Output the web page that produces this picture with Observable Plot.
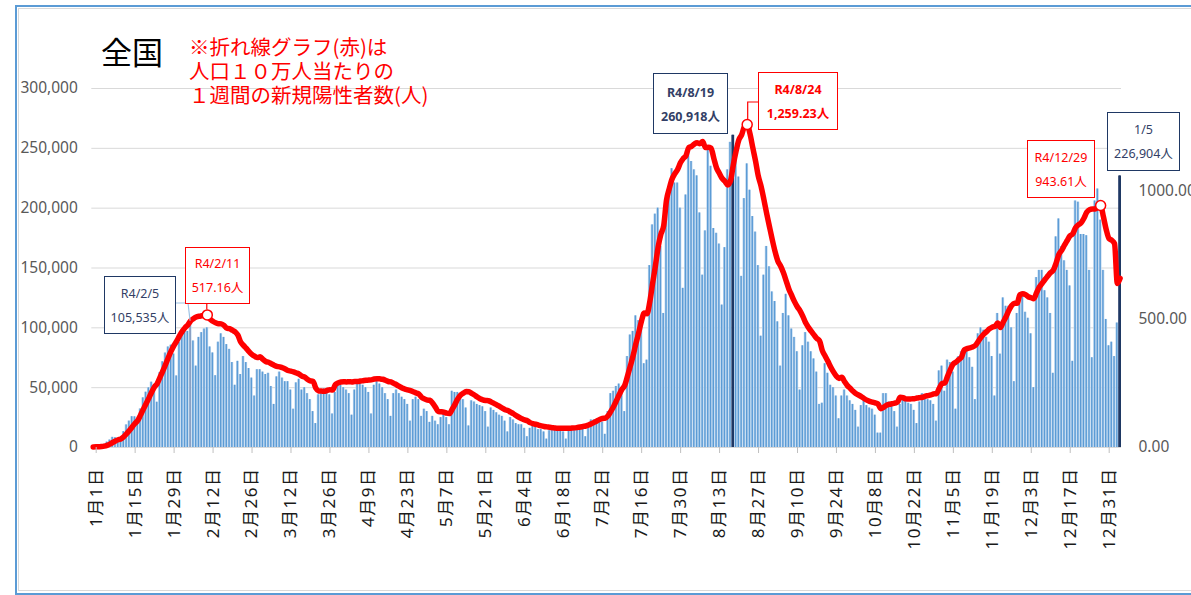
<!DOCTYPE html>
<html><head><meta charset="utf-8">
<script src="https://cdn.jsdelivr.net/npm/d3@7"></script>
<script src="https://cdn.jsdelivr.net/npm/@observablehq/plot@0.6"></script>
<style>
html,body{margin:0;padding:0;background:#fff;}
#wrap{position:relative;width:1191px;height:595px;overflow:hidden;font-family:"Noto Sans","Noto Sans CJK JP",sans-serif;}
#wrap svg.chart{position:absolute;left:0;top:0;}
.frame{position:absolute;left:15px;top:5px;width:1230px;height:590px;border:2px solid #5b9bd5;box-sizing:border-box;pointer-events:none;}
.frame2{position:absolute;left:18px;top:8px;width:1230px;height:583px;border:1px solid #d9d9d9;box-sizing:border-box;pointer-events:none;}
.title{position:absolute;left:101px;top:34px;font-family:"Noto Sans CJK JP",sans-serif;font-size:31px;line-height:1.1;color:#000;}
.note{position:absolute;left:189px;top:34px;font-family:"Noto Sans CJK JP",sans-serif;font-size:20.5px;line-height:24px;color:#ff0000;white-space:nowrap;}
.box{position:absolute;box-sizing:border-box;text-align:center;font-family:"Noto Sans","Noto Sans CJK JP",sans-serif;font-size:12.5px;line-height:24px;background:#fff;white-space:nowrap;}
.navy{border:1.3px solid #1f3864;color:#333f66;}
.red{border:1px solid #ff0000;color:#ff0000;}
.bold{font-weight:bold;}
g[aria-label="x-axis tick label"] text{letter-spacing:1.5px;}
</style>
</head><body>
<div id="wrap"></div>
<script>
// ---- daily new positives, whole of Japan (people) ----
const jan22 = [534,553,782,1265,2638,4475,6214,8480,8249,6438,5876,13244,18860,22045,25742,25635,20670,32197,41485,46199,49854,54576,50873,37830,62613,71633,78930,84000,85500,78100,59800];
const feb22 = [88000,94000,97000,97000,105535,89000,68000,92000,96000,99000,100000,84000,79000,60000,88000,95000,92000,86000,82000,71000,52000,72000,61000,76000,71000,66000,58000,43000];
const mar22 = [65000,65000,63000,61000,62000,51000,36000,59000,63000,58000,55000,55000,48000,32000,54000,57000,48000,50000,45000,40000,30000,20000,44000,47000,49000,49000,44000,28000,46000,53000,52000];
const apr22 = [50000,48000,45000,27000,48000,53000,54000,52000,50000,46000,28000,52000,55000,53000,50000,45000,40000,26000,45000,48000,45000,42000,40000,36000,22000,40000,42000,40000,26000,32000];
const may22 = [30000,21000,26000,22000,19000,25000,30000,25000,19000,47000,46000,46000,43000,40000,33000,18000,39000,38000,36000,35000,34000,30000,17000,33000,31000,29000,27000,26000,22000,13000,25000];
const jun22 = [23000,20000,19000,19000,16000,9000,16000,18000,17000,15000,15000,13000,7000,14000,16000,15000,14000,15000,13000,7000,14000,17000,16000,16000,17000,16000,9000,19000,23000,23000];
const jul22 = [23000,24000,21000,11000,30000,45000,47000,51000,53000,48000,30000,76000,94000,97000,110000,106000,105000,70000,73000,152000,186000,195000,200000,168000,112000,197000,209000,233000,221000,221000,200000];
const aug22 = [133000,211000,249000,239000,232000,227000,196000,144000,181000,250000,235000,183000,179000,170000,119000,167000,232000,255000,260918,246000,226000,143000,208000,237000,215000,193000,180000,152000,93000,144000,168000];
const sep22 = [151000,130000,122000,105000,68000,112000,128000,110000,99000,92000,80000,48000,85000,96000,88000,80000,74000,63000,36000,37000,70000,62000,52000,50000,43000,24000,43000,48000,43000,39000];
const oct22 = [36000,31000,17000,35000,39000,35000,33000,32000,27000,12000,12000,45000,45000,38000,35000,30000,17000,36000,43000,39000,37000,36000,31000,20000,38000,45000,44000,40000,39000,36000,22000];
const nov22 = [64000,68000,47000,73000,71000,63000,32000,76000,80000,82000,80000,75000,67000,40000,95000,100000,98000,92000,88000,76000,43000,112000,78000,125000,118000,118000,100000,55000,112000,120000];
const dec22 = [130000,113000,108000,95000,50000,142000,148000,148000,131000,125000,112000,62000,176000,191000,168000,156000,148000,135000,72000,206000,205000,178000,178000,177000,148000,75000,206000,216000,190000,148000,107000];
const jan23 = [85000,88000,76000,104000,226904];

// ---- weekly new positives per 100,000 population (red line, right axis) ----
const redJan22 = [2.2,2.5,2.9,3.6,5.4,8.6,13.1,19.5,25.6,30.1,33.8,42.2,53.7,66.3,80.0,93.9,105.2,126.2,148.7,170.5,192.7,215.6,235.7,249.4,273.6,297.7,323.7,351.0,375.6,397.3,414.8];
const redFeb22 = [435.0,452.9,467.2,477.6,493.6,502.3,508.8,512.0,513.6,515.2,517.16,500.4,492.4,486.1,482.9,482.1,476.5,465.3,463.7,457.4,451.0,438.2,411.2,398.4,386.5,373.7,363.3,356.2];
const redMar22 = [350.6,353.8,343.4,335.5,332.3,326.7,321.1,316.3,314.7,310.8,306.0,300.4,298.0,294.8,290.8,286.1,278.1,274.1,266.1,259.8,258.2,231.1,220.7,219.9,219.1,222.3,225.5,223.9,244.6,251.8,255.8];
const redApr22 = [256.6,255.8,256.6,255.8,257.4,257.4,259.0,260.6,262.2,262.9,263.7,266.9,268.5,267.7,266.1,262.2,257.4,255.8,250.2,244.6,238.2,231.9,227.9,224.7,221.5,217.5,212.7,208.8,196.0,189.6];
const redMay22 = [184.9,184.1,172.9,157.0,140.2,139.4,137.8,133.9,132.3,149.0,168.1,189.6,204.0,212.0,218.3,217.5,211.2,204.8,196.8,190.4,185.7,183.3,182.5,177.7,172.1,166.5,160.2,153.8,147.4,144.2,137.8];
const redJun22 = [131.5,124.3,117.9,112.4,107.6,104.4,97.2,93.2,90.8,87.6,84.5,82.1,80.5,78.9,77.3,75.7,74.9,74.9,74.9,74.9,74.9,75.7,76.5,78.1,79.7,82.1,83.7,87.6,92.4,98.0];
const redJul22 = [103.6,109.2,113.1,114.7,123.5,141.0,160.2,182.5,205.6,227.1,242.2,278.9,317.9,357.8,404.8,447.0,492.4,524.3,521.9,568.1,639.0,706.8,781.7,831.9,865.3,964.1,1009.6,1047.0,1067.7,1084.5,1110.0];
const redAug22 = [1126.7,1137.8,1169.7,1174.5,1183.3,1188.0,1184.9,1193.6,1169.7,1170.5,1167.3,1128.3,1090.0,1069.3,1049.4,1038.2,1023.9,1039.8,1101.9,1155.3,1199.9,1219.0,1251.7,1259.23,1223.8,1169.7,1117.1,1058.2,1018.3,967.3,912.4];
const redSep22 = [861.4,811.2,764.9,727.5,707.6,682.1,650.2,617.5,592.8,568.9,549.0,533.1,511.6,486.1,468.5,453.4,439.0,425.5,415.9,377.7,357.0,336.3,313.9,294.8,278.9,269.3,274.1,256.6,241.4,231.1];
const redOct22 = [219.9,210.4,204.8,198.4,191.2,184.9,180.1,176.9,173.7,169.7,151.4,156.2,164.1,168.1,170.5,172.9,176.9,196.0,194.4,189.6,188.8,189.6,190.4,192.8,194.4,196.0,200.0,202.4,204.8,208.8,210.4];
const redNov22 = [231.1,249.4,251.8,278.1,303.6,325.1,333.1,342.6,352.2,380.1,385.7,388.8,392.0,398.4,413.5,429.5,442.2,451.8,462.2,469.3,471.7,485.3,467.7,489.2,510.0,533.9,553.0,562.5,562.5,596.0];
const redDec22 = [600.0,596.0,588.0,584.1,580.1,604.0,626.3,640.6,655.0,668.5,682.1,691.6,718.7,753.0,768.9,788.8,807.2,825.5,833.5,857.4,868.5,876.5,894.0,917.1,927.5,929.9,929.9,938.6,943.61,900.0,850.0];
const redJan23 = [815.0,808.0,795.0,640.0,660.0];

// axes
const leftTicks = [0,50000,100000,150000,200000,250000,300000];
const rightTicks = [0,500,1000];
const rightMax = 1400;
const leftMax = 300000;
const xTickDates = ["2022-01-01","2022-01-15","2022-01-29","2022-02-12","2022-02-26","2022-03-12","2022-03-26","2022-04-09","2022-04-23","2022-05-07","2022-05-21","2022-06-04","2022-06-18","2022-07-02","2022-07-16","2022-07-30","2022-08-13","2022-08-27","2022-09-10","2022-09-24","2022-10-08","2022-10-22","2022-11-05","2022-11-19","2022-12-03","2022-12-17","2022-12-31"];

// highlights / annotations
const darkBars = ["2022-08-19","2023-01-05"];
const markedBar = "2022-02-05";
const redPeaks = ["2022-02-11","2022-08-24","2022-12-29"];
const boxes = [
  {cls:"navy", l1:"R4/2/5", l2:"105,535人", x:104, y:276, w:72, h:58, pt:5},
  {cls:"red", l1:"R4/2/11", l2:"517.16人", x:185, y:247, w:65, h:57, pt:4},
  {cls:"navy bold", l1:"R4/8/19", l2:"260,918人", x:653, y:73, w:75, h:61, pt:7},
  {cls:"red bold", l1:"R4/8/24", l2:"1,259.23人", x:758, y:72, w:80, h:58, pt:5},
  {cls:"red", l1:"R4/12/29", l2:"943.61人", x:1027, y:140, w:68, h:58, pt:5},
  {cls:"navy", l1:"1/5", l2:"226,904人", x:1107, y:112, w:73, h:59, pt:5}
];

// ---- build rows ----
const DAY = 864e5;
const start = Date.UTC(2022,0,1);
const counts = [].concat(jan22,feb22,mar22,apr22,may22,jun22,jul22,aug22,sep22,oct22,nov22,dec22,jan23);
const reds = [].concat(redJan22,redFeb22,redMar22,redApr22,redMay22,redJun22,redJul22,redAug22,redSep22,redOct22,redNov22,redDec22,redJan23);
const iso = d => d.toISOString().slice(0,10);
const bars = counts.map((v,i)=>({date:new Date(start+i*DAY), value:v}));
const red = reds.map((v,i)=>({date:new Date(start+i*DAY), value:v}));
const K = leftMax/rightMax;
const barColor = d => darkBars.includes(iso(d.date)) ? "#1f3864" : (iso(d.date)===markedBar ? "#7d93b8" : "#5b9bd5");
const peaks = red.filter(d=>redPeaks.includes(iso(d.date)));
const xTicks = xTickDates.map(s=>new Date(s+"T00:00:00Z"));
const half = d => [new Date(+d.date-DAY/2), new Date(+d.date+DAY/2)];

const chart = Plot.plot({
  width:1191, height:595,
  marginLeft:91.3, marginRight:70, marginTop:88, marginBottom:148,
  style:{background:"transparent", overflow:"visible", fontFamily:'"Noto Sans","Noto Sans CJK JP",sans-serif'},
  x:{type:"utc", domain:[new Date(start-DAY/2), new Date(start+(counts.length-1)*DAY+DAY/2)]},
  y:{domain:[0,leftMax]},
  color:{type:"identity"},
  marks:[
    Plot.gridY(leftTicks.slice(1), {stroke:"#d9d9d9", strokeOpacity:1}),
    Plot.rectY(bars, {x1:d=>half(d)[0], x2:d=>half(d)[1], y:"value", fill:d=>darkBars.includes(iso(d.date))?"#1f3864":"#bcd6ef"}),
    Plot.rectY(bars, {x1:d=>half(d)[0], x2:d=>half(d)[1], y:"value", fill:barColor, insetLeft:0.7, insetRight:0.7}),
    Plot.ruleY([0], {stroke:"#d9d9d9"}),
    Plot.line(red, {x:"date", y:d=>d.value*K, stroke:"#ff0000", strokeWidth:5.5, curve:"monotone-x", strokeLinejoin:"round", strokeLinecap:"round"}),
    Plot.dot(peaks, {x:"date", y:d=>d.value*K, r:5, fill:"#ffffff", stroke:"#ff0000", strokeWidth:1.5}),
    Plot.axisY(leftTicks, {anchor:"left", tickSize:0, tickPadding:14, tickFormat:d3.format(","), fontSize:15.5, fill:"#595959", label:null}),
    Plot.axisY(rightTicks.map(v=>v*K), {anchor:"right", tickSize:0, tickPadding:17, textAnchor:"start", tickFormat:d=>(d/K).toFixed(2), fontSize:15.5, fill:"#595959", label:null}),
    Plot.axisX(xTicks, {anchor:"bottom", tickRotate:-90, tickSize:6, tickPadding:14, dx:3, stroke:"#bfbfbf", fill:"#1a1a1a", fontSize:17, tickFormat:d=>`${d.getUTCMonth()+1}月${d.getUTCDate()}日`, label:null})
  ]
});
chart.classList.add("chart");
const wrap = document.getElementById("wrap");
wrap.appendChild(chart);

// titles
const t = document.createElement("div"); t.className="title"; t.textContent="全国"; wrap.appendChild(t);
const n = document.createElement("div"); n.className="note";
n.innerHTML = "※折れ線グラフ(赤)は<br>人口１０万人当たりの<br>１週間の新規陽性者数(人)";
wrap.appendChild(n);

// leader lines using the chart's scales
const xs = chart.scale("x"), ys = chart.scale("y");
const px = s => xs.apply(new Date(s+"T00:00:00Z"));
const ns = "http://www.w3.org/2000/svg";
const ov = document.createElementNS(ns,"svg");
ov.setAttribute("width",1191); ov.setAttribute("height",595);
ov.style.position="absolute"; ov.style.left="0"; ov.style.top="0"; ov.style.pointerEvents="none";
function poly(pts, color){
  const p = document.createElementNS(ns,"polyline");
  p.setAttribute("points", pts.map(q=>q.join(",")).join(" "));
  p.setAttribute("fill","none"); p.setAttribute("stroke",color); p.setAttribute("stroke-width","1.2");
  ov.appendChild(p);
}
const b5 = bars.find(d=>iso(d.date)===markedBar);
poly([[176,303],[188,303],[px(markedBar), ys.apply(b5.value)]], "#9dc3e6");
const p824 = peaks.find(d=>iso(d.date)==="2022-08-24");
poly([[758,102],[px("2022-08-24")+1,102],[px("2022-08-24")+1, ys.apply(p824.value*K)-5]], "#ff0000");
const p211 = peaks.find(d=>iso(d.date)==="2022-02-11");
poly([[px("2022-02-11"),304],[px("2022-02-11"), ys.apply(p211.value*K)-5]], "#ff0000");
wrap.appendChild(ov);

// annotation boxes
for (const b of boxes){
  const d = document.createElement("div");
  d.className = "box " + b.cls;
  d.style.left=b.x+"px"; d.style.top=b.y+"px"; d.style.width=b.w+"px"; d.style.height=b.h+"px";
  d.style.paddingTop = b.pt+"px";
  d.innerHTML = b.l1 + "<br>" + b.l2;
  wrap.appendChild(d);
}

// frame
const f1 = document.createElement("div"); f1.className="frame"; wrap.appendChild(f1);
const f2 = document.createElement("div"); f2.className="frame2"; wrap.appendChild(f2);
</script>
</body></html>
